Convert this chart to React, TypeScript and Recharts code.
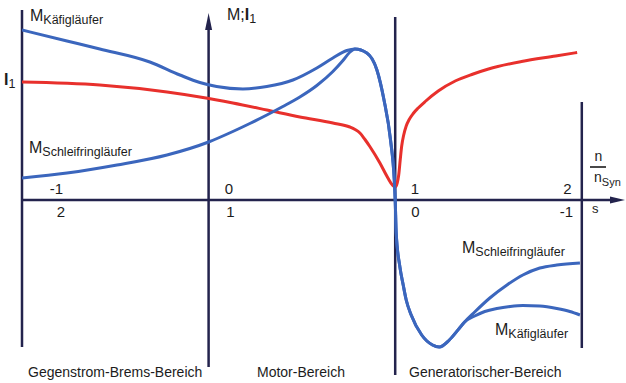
import React from 'react';
import {
  LineChart,
  Line,
  XAxis,
  YAxis,
  ReferenceLine,
  ReferenceDot,
  Customized,
} from 'recharts';

// Speed ratio n/nSyn (x) and torque / current in relative units (y)
const kaefigN = [-1.0, -0.759, -0.583, -0.315, -0.154, -0.047, 0.043, 0.184, 0.312, 0.452, 0.58, 0.666, 0.741, 0.784, 0.848, 0.902, 0.94, 0.975, 0.995, 1.0, 1.0054, 1.0252, 1.0429, 1.059, 1.0857, 1.142, 1.2, 1.236, 1.29, 1.345, 1.372, 1.426, 1.48, 1.545, 1.615, 1.684, 1.775, 1.866, 1.936, 1.99];
const kaefigM = [3.4, 3.18, 3.02, 2.76, 2.5, 2.35, 2.27, 2.22, 2.27, 2.4, 2.64, 2.84, 2.99, 3.02, 2.94, 2.6, 2.0, 1.2, 0.4, 0, -0.66, -1.34, -1.7, -2.0, -2.3, -2.7, -2.9, -2.94, -2.8, -2.56, -2.44, -2.32, -2.23, -2.17, -2.13, -2.11, -2.12, -2.17, -2.23, -2.3];

const schleifN = [-1.0, -0.759, -0.491, -0.223, 0.0, 0.13, 0.221, 0.312, 0.398, 0.489, 0.58, 0.666, 0.72, 0.755, 0.784, 0.848, 0.902, 0.94, 0.975, 0.995, 1.0, 1.0054, 1.0252, 1.0429, 1.059, 1.0857, 1.142, 1.2, 1.236, 1.29, 1.345, 1.372, 1.426, 1.507, 1.599, 1.684, 1.775, 1.866, 1.99];
const schleifM = [0.44, 0.54, 0.7, 0.9, 1.16, 1.37, 1.53, 1.7, 1.87, 2.06, 2.29, 2.57, 2.79, 2.95, 3.02, 2.94, 2.6, 2.0, 1.2, 0.4, 0, -0.66, -1.34, -1.7, -2.0, -2.3, -2.7, -2.9, -2.94, -2.8, -2.56, -2.44, -2.24, -1.96, -1.7, -1.5, -1.36, -1.3, -1.26];

const stromN = [-1.0, -0.583, -0.223, -0.047, 0.13, 0.312, 0.489, 0.666, 0.757, 0.785, 0.811, 0.838, 0.864, 0.918, 0.961, 0.985, 1.0, 1.0107, 1.0188, 1.0268, 1.0348, 1.0456, 1.059, 1.075, 1.0965, 1.1233, 1.1608, 1.2305, 1.3215, 1.418, 1.5, 1.677, 1.86, 1.975];
const stromI = [2.36, 2.3, 2.16, 2.06, 1.94, 1.8, 1.66, 1.54, 1.46, 1.41, 1.34, 1.21, 1.07, 0.74, 0.44, 0.3, 0.26, 0.34, 0.5, 0.8, 1.08, 1.3, 1.48, 1.61, 1.73, 1.84, 1.97, 2.18, 2.38, 2.52, 2.62, 2.77, 2.88, 2.95];

const speedTicks = ['-1', '0', '1', '2'];
const slipTicks = ['2', '1', '0', '-1'];
const regionNames = ['Gegenstrom-Brems-Bereich', 'Motor-Bereich', 'Generatorischer-Bereich'];

const zip = (xs: number[], ys: number[]) => xs.map((n, i) => ({ n, m: ys[i] }));
const kaefigData = zip(kaefigN, kaefigM);
const schleifData = zip(schleifN, schleifM);
const stromData = zip(stromN, stromI);

const BLUE = '#3b66bd';
const RED = '#e8302c';
const AXIS = '#23234d';
const TEXT = '#1c1c1c';
const FONT = '"Liberation Sans", Arial, sans-serif';

const X_MAX = 2.2315;

const SubLabel = ({ x, y, main, sub, bold }: { x: number; y: number; main: string; sub: string; bold?: boolean }) => (
  <text x={x} y={y} fontFamily={FONT} fill={TEXT} fontSize={16}>
    <tspan fontWeight={bold ? 'bold' : 'normal'}>{main}</tspan>
    <tspan fontSize={12.5} dy={3}>{sub}</tspan>
  </text>
);

const Annotations = () => (
  <g>
    <SubLabel x={30} y={21} main="M" sub="Käfigläufer" />
    <SubLabel x={29} y={153} main="M" sub="Schleifringläufer" />
    <SubLabel x={4} y={85} main="I" sub="1" bold />
    <text x={227} y={20} fontFamily={FONT} fill={TEXT} fontSize={16}>
      <tspan>M;</tspan>
      <tspan fontWeight="bold">I</tspan>
      <tspan fontSize={12.5} dy={3}>1</tspan>
    </text>
    <SubLabel x={462} y={253} main="M" sub="Schleifringläufer" />
    <SubLabel x={495} y={335} main="M" sub="Käfigläufer" />

    {/* speed ratio above the axis, slip below */}
    {[56.5, 229, 415, 567.5].map((cx, i) => (
      <text key={'n' + i} x={cx} y={194} textAnchor="middle" fontFamily={FONT} fontSize={15} fill={TEXT}>
        {speedTicks[i]}
      </text>
    ))}
    {[61, 230.5, 415.5, 566.5].map((cx, i) => (
      <text key={'s' + i} x={cx} y={217} textAnchor="middle" fontFamily={FONT} fontSize={15} fill={TEXT}>
        {slipTicks[i]}
      </text>
    ))}
    <text x={592} y={213} fontFamily={FONT} fontSize={13} fill={TEXT}>s</text>
    <text x={598.5} y={161} textAnchor="middle" fontFamily={FONT} fontSize={14} fill={TEXT}>n</text>
    <line x1={590} x2={606} y1={167} y2={167} stroke={TEXT} strokeWidth={1.6} />
    <text x={594} y={182} fontFamily={FONT} fontSize={14} fill={TEXT}>
      <tspan>n</tspan>
      <tspan fontSize={11} dy={4}>Syn</tspan>
    </text>

    {[28, 257, 409].map((x, i) => (
      <text key={'r' + i} x={x} y={377} fontFamily={FONT} fontSize={14} fill={TEXT}>
        {regionNames[i]}
      </text>
    ))}
  </g>
);

const upArrow = (props: any) => {
  const { cx, cy } = props;
  return <polygon points={`${cx},${cy} ${cx - 3.5},${cy + 17} ${cx + 3.5},${cy + 17}`} fill={AXIS} />;
};

const rightArrow = (props: any) => {
  const { cx, cy } = props;
  return <polygon points={`${cx},${cy} ${cx - 15},${cy - 3.5} ${cx - 15},${cy + 3.5}`} fill={AXIS} />;
};

export default function App() {
  return (
    <div style={{ position: 'absolute', left: 0, top: 0, width: 626, height: 383, background: '#ffffff' }}>
      <LineChart width={626} height={383} margin={{ top: 0, right: 1, bottom: 0, left: 22 }}>
        <XAxis type="number" dataKey="n" domain={[-1, X_MAX]} hide allowDataOverflow />
        <YAxis type="number" domain={[-3.66, 4]} hide allowDataOverflow />

        {/* region boundaries and axes */}
        <ReferenceLine segment={[{ x: -1, y: 3.8 }, { x: -1, y: -2.94 }]} stroke={AXIS} strokeWidth={2.5} ifOverflow="visible" />
        <ReferenceLine segment={[{ x: 0, y: 3.5 }, { x: 0, y: -3.34 }]} stroke={AXIS} strokeWidth={2.5} ifOverflow="visible" />
        <ReferenceLine segment={[{ x: 1, y: 3.66 }, { x: 1, y: -3.5 }]} stroke={AXIS} strokeWidth={2.5} ifOverflow="visible" />
        <ReferenceLine segment={[{ x: 2, y: 1.96 }, { x: 2, y: -2.96 }]} stroke={AXIS} strokeWidth={2.5} ifOverflow="visible" />
        <ReferenceLine segment={[{ x: -1, y: 0 }, { x: X_MAX - 0.05, y: 0 }]} stroke={AXIS} strokeWidth={2.5} ifOverflow="visible" />
        <ReferenceDot x={0} y={3.74} r={0} shape={upArrow} ifOverflow="visible" />
        <ReferenceDot x={X_MAX} y={0} r={0} shape={rightArrow} ifOverflow="visible" />

        <Line data={stromData} dataKey="m" type="monotone" stroke={RED} strokeWidth={3} dot={false} isAnimationActive={false} />
        <Line data={schleifData} dataKey="m" type="monotone" stroke={BLUE} strokeWidth={3} dot={false} isAnimationActive={false} />
        <Line data={kaefigData} dataKey="m" type="monotone" stroke={BLUE} strokeWidth={3} dot={false} isAnimationActive={false} />

        <Customized component={Annotations} />
      </LineChart>
    </div>
  );
}
